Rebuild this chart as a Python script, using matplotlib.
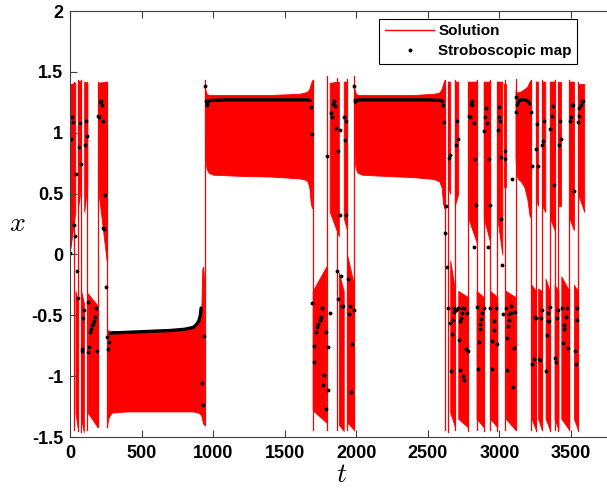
# Duffing-type oscillator: time series x(t) with its stroboscopic map
import matplotlib.pyplot as plt
from matplotlib.lines import Line2D

plt.rcParams['font.family'] = ['Liberation Sans', 'DejaVu Sans']
plt.rcParams['mathtext.fontset'] = 'cm'
plt.rcParams['axes.unicode_minus'] = False

# --- regular (dense) oscillation windows: envelope read at a few times ---
lowA_t = [258, 262, 270, 290, 400, 600, 800, 860, 895, 910, 918, 924, 930, 936]
lowA_top = [-0.62, -0.62, -0.625, -0.63, -0.63, -0.625, -0.61, -0.60, -0.56, -0.50, -0.42, -0.12, -0.10, -0.20]
lowA_bot = [-1.42, -1.38, -1.34, -1.30, -1.29, -1.29, -1.29, -1.29, -1.30, -1.31, -1.33, -1.36, -1.39, -1.40]

upB_t = [942, 948, 955, 970, 1000, 1200, 1400, 1600, 1640, 1660, 1672, 1682, 1690, 1694]
upB_top = [1.38, 1.34, 1.32, 1.31, 1.31, 1.31, 1.31, 1.32, 1.33, 1.34, 1.36, 1.40, 1.43, 1.43]
upB_bot = [0.95, 0.75, 0.70, 0.67, 0.655, 0.645, 0.64, 0.625, 0.615, 0.60, 0.55, 0.42, 0.38, 0.60]

upC_t = [1985, 1990, 1998, 2010, 2040, 2200, 2400, 2540, 2580, 2596, 2606, 2614, 2620]
upC_top = [1.38, 1.34, 1.32, 1.31, 1.31, 1.31, 1.31, 1.32, 1.33, 1.36, 1.40, 1.43, 1.43]
upC_bot = [0.95, 0.75, 0.70, 0.67, 0.655, 0.645, 0.635, 0.62, 0.60, 0.55, 0.42, 0.38, 0.55]

upD_t = [3112, 3118, 3130, 3150, 3175, 3195, 3210, 3220]
upD_top = [1.35, 1.34, 1.33, 1.34, 1.36, 1.38, 1.42, 1.43]
upD_bot = [0.80, 0.66, 0.62, 0.60, 0.55, 0.45, 0.32, 0.30]

# --- chaotic bursts: (start, end) and envelope at start / end ---
burst_t0 = [3, 38, 58, 78, 99, 124, 195,
            1695, 1814, 1878, 1912, 1935,
            2640, 2656, 2688, 2712, 2782, 2840, 2890, 2935, 2985, 3035, 3045,
            3224, 3255, 3270, 3297, 3322, 3353, 3385, 3412, 3432, 3487, 3520, 3548]
burst_t1 = [37, 56, 77, 97, 121, 193, 256,
            1790, 1878, 1912, 1935, 1984,
            2656, 2690, 2712, 2780, 2840, 2890, 2935, 2985, 3020, 3045, 3110,
            3254, 3270, 3296, 3320, 3352, 3385, 3412, 3432, 3487, 3520, 3548, 3592]
burst_top0 = [1.40, -0.30, 1.43, -0.30, 1.42, -0.32, 1.41,
              -0.30, 1.41, -0.15, 1.42, 0.00,
              1.42, -0.05, 1.42, -0.30, 1.42, -0.30, 1.42, -0.30, 1.42, 1.40, -0.30,
              -0.25, 1.42, -0.28, 1.42, -0.20, 1.42, -0.25, 1.42, -0.18, 1.42, -0.25, 1.40]
burst_top1 = [1.41, -0.40, 1.42, -0.40, 1.41, -0.42, 1.42,
              -0.10, 1.42, -0.30, 1.42, -0.25,
              1.42, -0.30, 1.42, -0.35, 1.42, -0.35, 1.42, -0.35, 1.42, 1.40, -0.35,
              -0.30, 1.42, -0.30, 1.42, -0.30, 1.42, -0.30, 1.42, -0.30, 1.42, -0.30, 1.40]
burst_bot0 = [0.05, -1.30, 0.40, -1.35, 0.35, -1.30, 0.55,
              -1.28, 0.35, -1.40, 0.30, -1.38,
              0.55, -1.30, 0.40, -1.35, 0.30, -1.35, 0.30, -1.35, 0.30, 0.55, -1.35,
              -1.35, 0.45, -1.35, 0.40, -1.35, 0.30, -1.35, 0.40, -1.35, 0.30, -1.35, 0.50]
burst_bot1 = [0.35, -1.44, 0.55, -1.46, 0.55, -1.42, -0.05,
              -1.38, 0.15, -1.45, 0.20, -1.44,
              0.50, -1.42, 0.50, -1.42, 0.10, -1.42, 0.10, -1.42, 0.00, 0.55, -1.44,
              -1.44, 0.40, -1.44, 0.35, -1.44, 0.20, -1.44, 0.40, -1.44, 0.20, -1.44, 0.35]

# --- single swings from one well to the other (thin lines) ---
jump_t = [30, 57, 77, 122, 194, 258, 940, 1694, 1796, 1868, 1932, 1985,
          2621, 2637, 2688, 2782, 2840, 2889, 2936, 2986, 3036, 3112,
          3222, 3256, 3296, 3353, 3385, 3412, 3487, 3548]
jump_lo = [-1.44, -1.45, -1.46, -1.44, -1.42, -1.42, -1.40, -1.44, -1.44, -1.44, -1.44, -1.44,
           -1.44, -1.46, -1.44, -1.45, -1.44, -1.45, -1.44, -1.45, -1.44, -1.44,
           -1.44, -1.45, -1.44, -1.45, -1.44, -1.45, -1.44, -1.45]
jump_hi = [1.42, 1.43, 1.43, 1.42, 1.42, 1.42, 1.43, 1.43, 1.47, 1.45, 1.44, 1.47,
           1.43, 1.42, 1.43, 1.42, 1.43, 1.42, 1.43, 1.42, 1.43, 1.44,
           1.43, 1.42, 1.43, 1.42, 1.43, 1.42, 1.43, 1.42]

# --- stroboscopic map: regular windows (points merge into a thick trace) ---
stA_t = [282, 300, 400, 500, 600, 700, 800, 860, 885, 900, 910, 916]
stA_x = [-0.65, -0.645, -0.64, -0.635, -0.63, -0.625, -0.615, -0.60, -0.575, -0.545, -0.505, -0.44]
stB_t = [957, 965, 980, 1100, 1300, 1500, 1650, 1678]
stB_x = [1.235, 1.255, 1.265, 1.27, 1.27, 1.27, 1.27, 1.265]
stC_t = [1993, 2000, 2015, 2100, 2300, 2500, 2590, 2603]
stC_x = [1.25, 1.26, 1.27, 1.27, 1.27, 1.27, 1.265, 1.255]
stD_t = [3124, 3135, 3150, 3170, 3190, 3202, 3212]
stD_x = [1.225, 1.26, 1.27, 1.27, 1.265, 1.255, 1.235]

# --- stroboscopic map: isolated points ---
dot_t = [0, 9, 16, 23, 28, 35, 42, 49, 56, 61, 68, 75, 82, 86, 91, 98, 105, 112, 119,
         124, 128, 135, 142, 149, 156, 163, 170, 177, 184, 191, 198, 205, 212, 217, 221,
         228, 233, 240, 247, 252, 261, 268, 275,
         925, 930, 934, 943, 950, 955,
         1682, 1689, 1693,
         1703, 1707, 1716, 1726, 1735, 1744, 1754, 1758, 1770, 1777, 1786, 1791, 1796,
         1800, 1805, 1814, 1824, 1828, 1838, 1847, 1852, 1861, 1866, 1870, 1875, 1884,
         1889, 1894, 1903, 1907, 1917, 1921, 1926, 1931, 1940, 1949, 1954, 1963, 1968,
         1982, 1987, 1991,
         2607, 2612, 2619, 2623, 2633, 2637, 2647, 2651, 2656, 2660, 2670, 2674, 2679,
         2684, 2693, 2693, 2700, 2707, 2712, 2716, 2721, 2726, 2730, 2735, 2740, 2744,
         2749, 2754, 2763, 2772, 2777, 2786, 2793, 2800, 2805, 2810, 2819, 2824, 2828,
         2837, 2842, 2851, 2856, 2861, 2865, 2870, 2875, 2889, 2893, 2898, 2907, 2912,
         2919, 2924, 2933, 2935, 2945, 2949, 2959, 2963, 2973, 2982, 2987, 2994, 3000,
         3005, 3010, 3014, 3019, 3028, 3038, 3042, 3047, 3052, 3056, 3061, 3066, 3070,
         3080, 3084, 3089, 3094, 3103, 3108, 3113, 3118,
         3219, 3224, 3229, 3238, 3247, 3252, 3257, 3261, 3266, 3275, 3280, 3289, 3294,
         3299, 3303, 3308, 3327, 3331, 3336, 3341, 3345, 3350, 3355, 3364, 3373, 3382,
         3387, 3396, 3401, 3406, 3415, 3422, 3427, 3434, 3443, 3448, 3452, 3462, 3471,
         3480, 3490, 3499, 3504, 3513, 3518, 3527, 3532, 3541, 3545, 3550, 3555, 3559,
         3569, 3576, 3583]
dot_x = [0.01, 0.95, 1.13, 1.09, 0.24, 0.15, 0.66, -0.14, -0.36, 0.88, 1.08, 0.74, -0.78, -0.79, -0.52, -0.46, 0.90, 1.10, 0.97,
         -0.39, -0.80, -0.76, -0.64, -0.61, -0.58, -0.57, -0.55, -0.51, -0.44, -0.79, 1.14, 1.13, 1.25, 1.26, 1.23,
         1.10, 0.22, 0.21, 0.49, -0.27, -0.68, -0.78, -0.72,
         -1.06, -1.24, -0.67, 1.38, 1.26, 1.23,
         1.21, 0.99, -0.40,
         -0.88, -0.75, -0.64, -0.60, -0.57, -0.54, -0.51, -0.44, -1.07, -0.99, -1.27, -0.64, 0.81,
         -1.11, -0.76, -0.48, 1.16, 1.13, 1.24, 1.26, 1.22, 1.04, -0.14, -0.37, 0.85, 1.02,
         0.32, -0.18, -0.42, -0.42, 1.13, 0.94, 1.10, 0.32, -0.20, -0.49, -0.42, -1.13, -0.74,
         -0.46, 1.38, 1.27,
         1.23, 1.09, 0.18, 0.40, -0.10, -0.44, 0.79, 0.82, -0.56, -0.96, -0.65, -0.54, -0.47,
         -0.44, -0.46, 0.90, 1.10, 0.95, -0.44, -0.70, -0.95, -0.55, -0.52, -0.48, -0.44, -1.00,
         -0.44, -1.03, -0.78, -0.48, -0.79, 1.14, 1.13, 1.24, 1.26, 1.23, 1.08, 0.06, 0.78,
         0.41, -0.43, -0.94, -0.72, -0.61, -0.57, -0.53, -0.48, -0.44, 1.01, 1.13, 1.20, 1.08,
         0.06, 0.78, 0.41, -0.44, -0.94, -0.71, -0.62, -0.55, -0.44, -0.74, 1.02, 1.13, 1.21,
         1.10, 0.80, 0.29, -0.09, -0.49, 0.78, 0.85, -0.44, -0.95, -0.69, -0.59, -0.54, -0.49,
         -0.42, -0.48, 0.62, -1.09, -0.77, -0.47, 1.29, 1.17,
         1.17, 0.73, -0.90, -0.86, -0.51, -0.52, 0.87, 1.07, 0.73, -0.86, -0.87, -0.52, -0.46,
         0.90, 0.93, 1.10, -0.96, -0.66, -0.55, -0.48, -0.55, -0.43, 1.03, 1.14, 1.22, 0.57,
         -0.85, -0.88, -0.52, -0.46, 0.90, 1.10, 0.95, -0.44, -0.73, -0.61, -0.58, -0.51, -0.44,
         -0.77, 1.10, 1.13, 1.23, 1.23, 0.52, -0.79, -0.90, -0.54, -0.44, 1.09, 1.20, 1.14,
         1.23, 1.26, 1.26]

xticks = [0, 500, 1000, 1500, 2000, 2500, 3000, 3500]
yticks = [-1.5, -1, -0.5, 0, 0.5, 1, 1.5, 2]
ytick_labels = ['-1.5', '-1', '-0.5', '0', '0.5', '1', '1.5', '2']

fig = plt.figure(figsize=(6.07, 4.91), dpi=100)
ax = fig.add_axes([70 / 607, 54 / 491, 544 / 607, 426 / 491])

red = '#ff0000'
for tt, top, bot in [(lowA_t, lowA_top, lowA_bot), (upB_t, upB_top, upB_bot),
                     (upC_t, upC_top, upC_bot), (upD_t, upD_top, upD_bot)]:
    ax.fill_between(tt, bot, top, color=red, lw=0.6, edgecolor=red)

for i in range(len(burst_t0)):
    ax.fill_between([burst_t0[i], burst_t1[i]], [burst_bot0[i], burst_bot1[i]],
                    [burst_top0[i], burst_top1[i]], color=red, lw=0.6, edgecolor=red)

for i in range(len(jump_t)):
    ax.plot([jump_t[i], jump_t[i]], [jump_lo[i], jump_hi[i]], color=red, lw=0.9)

for st, sx in [(stA_t, stA_x), (stB_t, stB_x), (stC_t, stC_x), (stD_t, stD_x)]:
    ax.plot(st, sx, color='black', lw=2.4, solid_capstyle='round')
ax.plot(dot_t, dot_x, 'o', color='black', ms=2.8, mew=0)

ax.set_xlim(0, 3800)
ax.set_ylim(-1.5, 2)
ax.set_xticks(xticks)
ax.set_yticks(yticks)
ax.set_yticklabels(ytick_labels)
ax.tick_params(direction='in', length=5, width=0.8, top=True, right=False,
               labelsize=13, colors='#404040', labelcolor='black')
ax.tick_params(axis='x', pad=6)
ax.tick_params(axis='y', pad=5)
for lab in ax.get_xticklabels() + ax.get_yticklabels():
    lab.set_fontweight('bold')
for s in ax.spines.values():
    s.set_color('#404040')
    s.set_linewidth(0.8)

ax.set_xlabel('$t$', fontsize=20, labelpad=0)
ax.set_ylabel('$x$', fontsize=20, labelpad=10, rotation=0, va='center')

handles = [Line2D([], [], color=red, lw=1),
           Line2D([], [], color='black', marker='o', ms=2.8, mew=0, ls='none')]
leg = ax.legend(handles, ['Solution', 'Stroboscopic map'], loc='upper right',
                bbox_to_anchor=(577 / 607, 472 / 491), bbox_transform=fig.transFigure,
                borderaxespad=0, fancybox=False, framealpha=1, edgecolor='black',
                prop={'weight': 'bold', 'size': 11}, handlelength=3.25,
                handletextpad=0.25, borderpad=0.35, labelspacing=0.4)
leg.get_frame().set_linewidth(0.8)

fig.savefig('out.png', dpi=100)
